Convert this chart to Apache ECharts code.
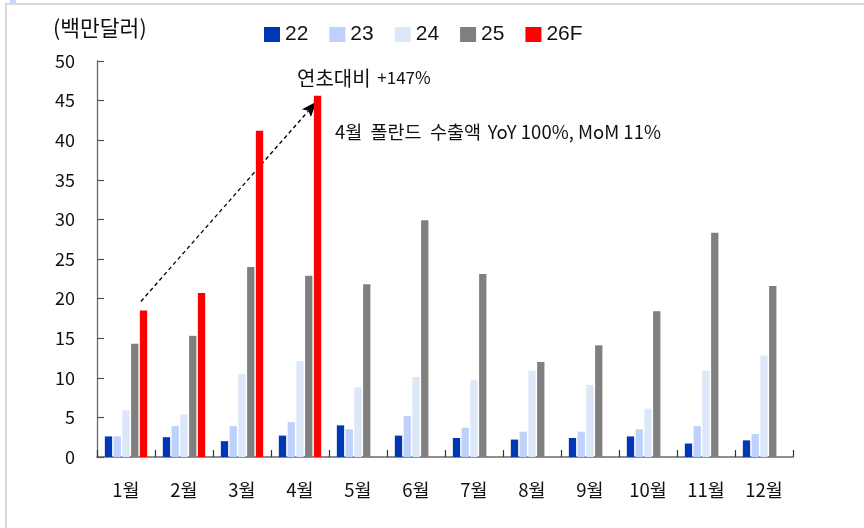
<!DOCTYPE html>
<html>
<head>
<meta charset="utf-8">
<script src="https://cdn.jsdelivr.net/npm/echarts@6/dist/echarts.min.js"></script>
<style>
  html, body { margin: 0; padding: 0; background: #fff; }
  #chart { width: 864px; height: 528px; }
</style>
</head>
<body>
<div id="chart"></div>
<script>
// Monthly export values (million USD), by year
const months = ['1월', '2월', '3월', '4월', '5월', '6월', '7월', '8월', '9월', '10월', '11월', '12월'];
const yearNames = ['22', '23', '24', '25', '26F'];
const y22 = [2.6, 2.5, 2.0, 2.7, 4.0, 2.7, 2.4, 2.2, 2.4, 2.6, 1.7, 2.1];
const y23 = [2.6, 3.9, 3.9, 4.4, 3.5, 5.2, 3.7, 3.2, 3.2, 3.5, 3.9, 2.9];
const y24 = [5.9, 5.4, 10.5, 12.1, 8.8, 10.1, 9.7, 10.9, 9.1, 6.1, 10.9, 12.8];
const y25 = [14.3, 15.3, 24.0, 22.9, 21.8, 29.9, 23.1, 12.0, 14.1, 18.4, 28.3, 21.6];
const y26F = [18.5, 20.7, 41.2, 45.6, null, null, null, null, null, null, null, null];
const yTicks = [0, 5, 10, 15, 20, 25, 30, 35, 40, 45, 50];

const colors = ['#0037b4', '#bdd1fb', '#dce7f7', '#7f7f7f', '#ff0000'];
const seriesData = [y22, y23, y24, y25, y26F];

const KR = '"Noto Sans CJK KR", "Noto Sans", sans-serif';

const chart = echarts.init(document.getElementById('chart'), null, { renderer: 'canvas' });

chart.setOption({
  backgroundColor: '#ffffff',
  animation: false,
  grid: { left: 97, right: 71, top: 61, bottom: 71, containLabel: false },
  legend: {
    data: yearNames,
    left: 259,
    top: 19,
    icon: 'rect',
    itemWidth: 16,
    itemHeight: 15,
    itemGap: 21,
    selectedMode: false,
    textStyle: { fontFamily: '"Liberation Sans", Arial, sans-serif', fontSize: 21, color: '#111' }
  },
  xAxis: {
    type: 'category',
    data: months,
    boundaryGap: true,
    axisLine: { lineStyle: { color: '#6b6b6b', width: 1.6 } },
    axisTick: { show: true, inside: true, length: 7, alignWithLabel: false, lineStyle: { color: '#333', width: 1.2 } },
    axisLabel: { fontFamily: KR, fontSize: 18.5, color: '#111', margin: 24 },
    splitLine: { show: false }
  },
  yAxis: {
    type: 'value',
    min: yTicks[0],
    max: yTicks[yTicks.length - 1],
    interval: 5,
    name: '(백만달러)',
    nameLocation: 'end',
    nameGap: 22,
    nameTextStyle: { fontFamily: KR, fontSize: 21.5, color: '#111', align: 'left', padding: [0, 0, 0, -44] },
    axisLine: { show: true, lineStyle: { color: '#6b6b6b', width: 1.3 } },
    axisTick: { show: true, inside: true, length: 7, lineStyle: { color: '#555', width: 1.2 } },
    axisLabel: { fontFamily: KR, fontSize: 18, color: '#111', margin: 22 },
    splitLine: { show: false }
  },
  series: seriesData.map((d, i) => ({
    name: yearNames[i],
    type: 'bar',
    data: d,
    barWidth: 7.3,
    barGap: '20%',
    itemStyle: { color: colors[i] },
    silent: true
  }))
});

// Dashed arrow from the January forecast bar to the April forecast bar,
// plus the two annotation texts.
function drawAnnotations() {
  const data = chart.getModel().getSeriesByIndex(4).getData();
  const l1 = data.getItemLayout(0);
  const l4 = data.getItemLayout(3);
  const top1 = Math.min(l1.y, l1.y + l1.height);
  const top4 = Math.min(l4.y, l4.y + l4.height);
  const sx = l1.x + 1, sy = top1 - 9;
  const tx = l4.x + 2.5, ty = top4 + 6;
  const dx = tx - sx, dy = ty - sy;
  const len = Math.sqrt(dx * dx + dy * dy);
  const ux = dx / len, uy = dy / len;
  const headLen = 15, headHalf = 6;
  const bx = tx - ux * headLen, by = ty - uy * headLen;
  const nx = -uy, ny = ux;
  const notchX = tx - ux * headLen * 0.8, notchY = ty - uy * headLen * 0.8;

  chart.setOption({
    graphic: [
      // outer frame
      { type: 'rect', shape: { x: 6, y: 4, width: 870, height: 540 }, style: { fill: 'none', stroke: '#d9d9d9', lineWidth: 2 }, silent: true },
      { type: 'rect', shape: { x: 10, y: 0, width: 6, height: 3 }, style: { fill: '#c6d6f6' }, silent: true },
      {
        type: 'line',
        shape: { x1: sx, y1: sy, x2: notchX, y2: notchY },
        style: { stroke: '#000', lineWidth: 1.3, lineDash: [4, 3] },
        silent: true
      },
      {
        type: 'polygon',
        shape: { points: [[tx, ty], [bx + nx * headHalf, by + ny * headHalf], [notchX, notchY], [bx - nx * headHalf, by - ny * headHalf]] },
        style: { fill: '#000' },
        silent: true
      },
      {
        type: 'text',
        left: 297,
        top: 68,
        style: {
          text: '{k|연초대비}  {n|+147%}',
          rich: {
            k: { fontFamily: KR, fontSize: 20, fill: '#111' },
            n: { fontFamily: KR, fontSize: 17, fill: '#111' }
          }
        },
        silent: true
      },
      {
        type: 'text',
        left: 335,
        top: 123,
        style: {
          text: '{k|4월  폴란드  수출액}  {n|YoY 100%, MoM 11%}',
          rich: {
            k: { fontFamily: KR, fontSize: 18.5, fill: '#111' },
            n: { fontFamily: KR, fontSize: 18.5, fill: '#111' }
          }
        },
        silent: true
      }
    ]
  });
}
drawAnnotations();
</script>
</body>
</html>
